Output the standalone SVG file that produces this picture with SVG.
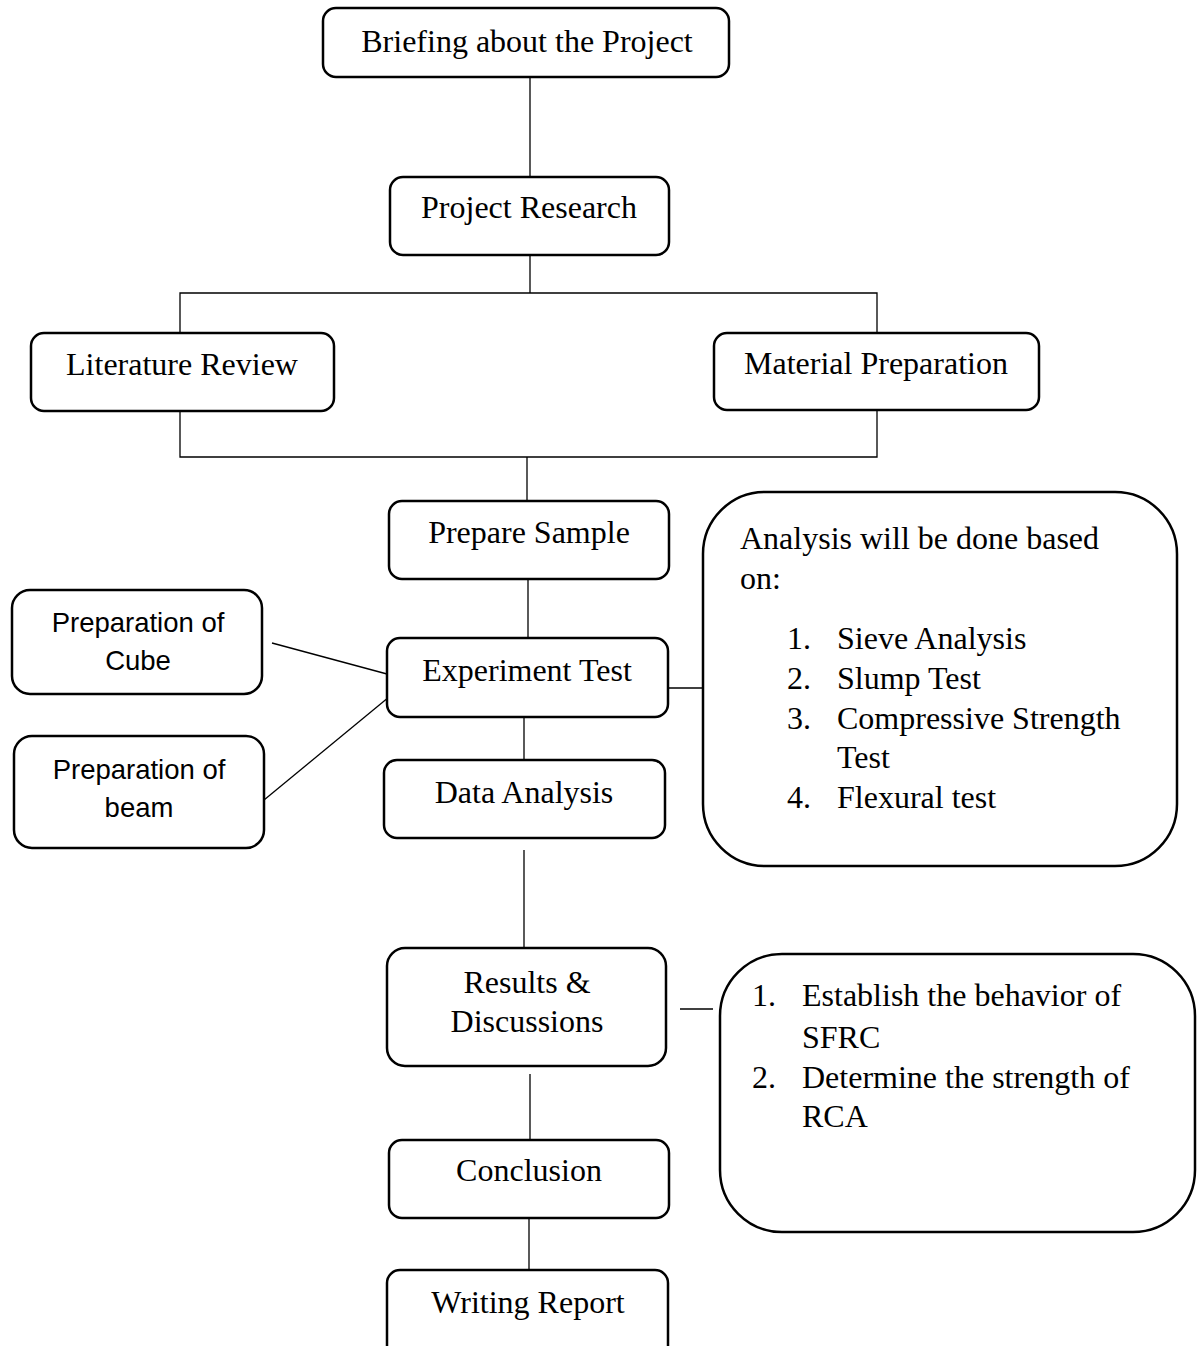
<svg xmlns="http://www.w3.org/2000/svg" width="1201" height="1346" viewBox="0 0 1201 1346">
<style>
.box{fill:#fff;stroke:#000;stroke-width:2.5}
.t{font-family:"Liberation Serif","Times New Roman",serif;font-size:32px;fill:#000}
.c{text-anchor:middle}
.s{font-family:"Liberation Sans",Arial,sans-serif;font-size:27.5px;fill:#000;text-anchor:middle}
.ln{stroke:#000;stroke-width:1.3;fill:none}
</style>
<rect width="1201" height="1346" fill="#fff"/>
<g id="connectors">
<line class="ln" x1="530" y1="77" x2="530" y2="177"/>
<line class="ln" x1="530" y1="255" x2="530" y2="293"/>
<polyline class="ln" points="180,333 180,293 877,293 877,333"/>
<polyline class="ln" points="180,411 180,457 877,457 877,410"/>
<line class="ln" x1="527" y1="457" x2="527" y2="501"/>
<line class="ln" x1="528" y1="579" x2="528" y2="638"/>
<line class="ln" x1="272" y1="643" x2="387" y2="674"/>
<line class="ln" x1="264" y1="800" x2="389" y2="697"/>
<line class="ln" x1="668" y1="688" x2="704" y2="688"/>
<line class="ln" x1="524" y1="717" x2="524" y2="760"/>
<line class="ln" x1="524" y1="850" x2="524" y2="948"/>
<line class="ln" x1="680" y1="1009" x2="713" y2="1009"/>
<line class="ln" x1="530" y1="1074" x2="530" y2="1144"/>
<line class="ln" x1="529" y1="1218" x2="529" y2="1270"/>
</g>
<g id="briefing">
<rect class="box" x="323" y="8" width="406" height="69" rx="13"/>
<text class="t c" x="527" y="52">Briefing about the Project</text>
</g>
<g id="project-research">
<rect class="box" x="390" y="177" width="279" height="78" rx="13"/>
<text class="t c" x="529" y="218">Project Research</text>
</g>
<g id="literature-review">
<rect class="box" x="31" y="333" width="303" height="78" rx="13"/>
<text class="t c" x="182" y="375">Literature Review</text>
</g>
<g id="material-preparation">
<rect class="box" x="714" y="333" width="325" height="77" rx="13"/>
<text class="t c" x="876" y="374">Material Preparation</text>
</g>
<g id="prepare-sample">
<rect class="box" x="389" y="501" width="280" height="78" rx="13"/>
<text class="t c" x="529" y="543">Prepare Sample</text>
</g>
<g id="experiment-test">
<rect class="box" x="387" y="638" width="281" height="79" rx="13"/>
<text class="t c" x="527" y="681">Experiment Test</text>
</g>
<g id="data-analysis">
<rect class="box" x="384" y="760" width="281" height="78" rx="13"/>
<text class="t c" x="524" y="803">Data Analysis</text>
</g>
<g id="prep-cube">
<rect class="box" x="12" y="590" width="250" height="104" rx="18"/>
<text class="s" x="138" y="632">Preparation of</text>
<text class="s" x="138" y="670">Cube</text>
</g>
<g id="prep-beam">
<rect class="box" x="14" y="736" width="250" height="112" rx="18"/>
<text class="s" x="139" y="779">Preparation of</text>
<text class="s" x="139" y="817">beam</text>
</g>
<g id="analysis-list">
<rect class="box" x="703" y="492" width="474" height="374" rx="62"/>
<text class="t" x="740" y="549">Analysis will be done based</text>
<text class="t" x="740" y="589">on:</text>
<text class="t" x="787" y="649">1.</text><text class="t" x="837" y="649">Sieve Analysis</text>
<text class="t" x="787" y="689">2.</text><text class="t" x="837" y="689">Slump Test</text>
<text class="t" x="787" y="729">3.</text><text class="t" x="837" y="729">Compressive Strength</text>
<text class="t" x="837" y="768">Test</text>
<text class="t" x="787" y="808">4.</text><text class="t" x="837" y="808">Flexural test</text>
</g>
<g id="results">
<rect class="box" x="387" y="948" width="279" height="118" rx="18"/>
<text class="t c" x="527" y="993">Results &amp;</text>
<text class="t c" x="527" y="1032">Discussions</text>
</g>
<g id="objectives">
<rect class="box" x="720" y="954" width="475" height="278" rx="62"/>
<text class="t" x="752" y="1006">1.</text><text class="t" x="802" y="1006">Establish the behavior of</text>
<text class="t" x="802" y="1048">SFRC</text>
<text class="t" x="752" y="1088">2.</text><text class="t" x="802" y="1088">Determine the strength of</text>
<text class="t" x="802" y="1127">RCA</text>
</g>
<g id="conclusion">
<rect class="box" x="389" y="1140" width="280" height="78" rx="13"/>
<text class="t c" x="529" y="1181">Conclusion</text>
</g>
<g id="writing-report">
<rect class="box" x="387" y="1270" width="281" height="110" rx="13"/>
<text class="t c" x="528" y="1313">Writing Report</text>
</g>
</svg>
